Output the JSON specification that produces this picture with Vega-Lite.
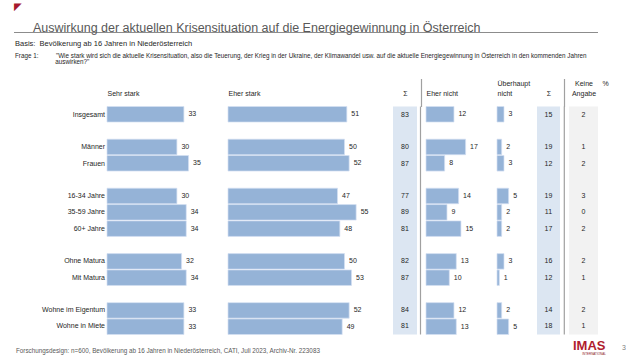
{
  "$schema": "https://vega.github.io/schema/vega-lite/v6.json",
  "padding": {"left": 14, "top": 2, "right": 0, "bottom": 0},
  "background": "white",
  "config": {
    "view": {"stroke": null},
    "font": "Liberation Sans",
    "axis": {"domain": false, "ticks": false, "labels": false, "grid": false, "titleFont": "Liberation Sans", "titleFontSize": 7, "titleFontWeight": "normal", "titleColor": "#262626", "titlePadding": 10, "minExtent": 0, "titleLineHeight": 10},
    "title": {"font": "Liberation Sans", "fontWeight": "normal"}
  },
  "title": {"text": "◤", "font": "DejaVu Sans", "fontSize": 10, "color": "#a6192e", "anchor": "start", "offset": 9.5},
  "datasets": {
    "rows": [
      {"label": "Insgesamt", "sehr": 33, "eher": 51, "sum1": 83, "nicht": 12, "ueber": 3, "sum2": 15, "ka": 2},
      {"label": "Männer", "sehr": 30, "eher": 50, "sum1": 80, "nicht": 17, "ueber": 2, "sum2": 19, "ka": 1},
      {"label": "Frauen", "sehr": 35, "eher": 52, "sum1": 87, "nicht": 8, "ueber": 3, "sum2": 12, "ka": 2},
      {"label": "16-34 Jahre", "sehr": 30, "eher": 47, "sum1": 77, "nicht": 14, "ueber": 5, "sum2": 19, "ka": 3},
      {"label": "35-59 Jahre", "sehr": 34, "eher": 55, "sum1": 89, "nicht": 9, "ueber": 2, "sum2": 11, "ka": 0},
      {"label": "60+ Jahre", "sehr": 34, "eher": 48, "sum1": 81, "nicht": 15, "ueber": 2, "sum2": 17, "ka": 2},
      {"label": "Ohne Matura", "sehr": 32, "eher": 50, "sum1": 82, "nicht": 13, "ueber": 3, "sum2": 16, "ka": 2},
      {"label": "Mit Matura", "sehr": 34, "eher": 53, "sum1": 87, "nicht": 10, "ueber": 1, "sum2": 12, "ka": 1},
      {"label": "Wohne im Eigentum", "sehr": 33, "eher": 52, "sum1": 84, "nicht": 12, "ueber": 2, "sum2": 14, "ka": 2},
      {"label": "Wohne in Miete", "sehr": 33, "eher": 49, "sum1": 81, "nicht": 13, "ueber": 5, "sum2": 18, "ka": 1}
    ]
  },
  "spacing": 5.5,
  "vconcat": [
    {
      "width": 584,
      "height": 1,
      "view": {"fill": "#8c8c8c", "stroke": null},
      "title": {"text": "Auswirkung der aktuellen Krisensituation auf die Energiegewinnung in Österreich", "fontSize": 12.5, "color": "#595959", "anchor": "start", "frame": "group", "dx": 19, "offset": -2},
      "data": {"values": []},
      "mark": {"type": "text", "text": ""},
      "encoding": {}
    },
    {
      "title": {
        "text": "Basis:\u00a0\u00a0Bevölkerung ab 16 Jahren in Niederösterreich",
        "fontSize": 7.5, "color": "#262626", "anchor": "start", "frame": "group", "dx": 1, "offset": 12.5,
        "subtitle": ["Frage 1:\u00a0\u00a0\u00a0\u00a0\u00a0\u00a0\u00a0\u00a0\u00a0\u00a0\"Wie stark wird sich die aktuelle Krisensituation, also die Teuerung, der Krieg in der Ukraine, der Klimawandel usw. auf die aktuelle Energiegewinnung in Österreich in den kommenden Jahren", "\u200b\u00a0\u00a0\u00a0\u00a0\u00a0\u00a0\u00a0\u00a0\u00a0\u00a0\u00a0\u00a0\u00a0\u00a0\u00a0\u00a0\u00a0\u00a0\u00a0\u00a0\u00a0\u00a0\u00a0auswirken?\""],
        "subtitleFontSize": 6.3, "subtitleColor": "#262626", "subtitleLineHeight": 6.3, "subtitlePadding": 5
      },
      "spacing": 0,
      "bounds": "flush",
      "data": {"name": "rows"},
      "hconcat": [
        {
          "width": 93, "height": 228,
          "title": {"text": "Forschungsdesign: n=600, Bevölkerung ab 16 Jahren in Niederösterreich, CATI, Juli 2023, Archiv-Nr. 223083", "orient": "bottom", "anchor": "start", "frame": "group", "fontSize": 6.3, "color": "#595959", "dx": 2, "offset": 13},
          "mark": {"type": "text", "align": "right", "dx": -2, "fontSize": 7, "color": "#262626"},
          "encoding": {
            "x": {"datum": 1, "type": "quantitative", "scale": {"domain": [0, 1], "nice": false}, "axis": null},
            "y": {"field": "label", "type": "nominal", "scale": {"domain": ["Insgesamt", " ", "Männer", "Frauen", "  ", "16-34 Jahre", "35-59 Jahre", "60+ Jahre", "   ", "Ohne Matura", "Mit Matura", "    ", "Wohne im Eigentum", "Wohne in Miete"], "paddingInner": 0.05, "paddingOuter": 0}, "axis": null},
            "text": {"field": "label"}
          }
        },
        {
          "width": 121, "height": 228,
          "layer": [
            {"mark": {"type": "bar", "color": "#95b3d7", "stroke": "#d4e0f2", "strokeWidth": 0.7}},
            {"mark": {"type": "text", "align": "left", "dx": 4.5, "fontSize": 7, "color": "#262626"}, "encoding": {"text": {"field": "sehr"}}}
          ],
          "encoding": {
            "x": {"field": "sehr", "type": "quantitative", "scale": {"domain": [0, 51.93], "nice": false}, "axis": {"orient": "top", "title": "Sehr stark", "titleAnchor": "start", "titleAlign": "left"}},
            "y": {"field": "label", "type": "nominal", "scale": {"domain": ["Insgesamt", " ", "Männer", "Frauen", "  ", "16-34 Jahre", "35-59 Jahre", "60+ Jahre", "   ", "Ohne Matura", "Mit Matura", "    ", "Wohne im Eigentum", "Wohne in Miete"], "paddingInner": 0.05, "paddingOuter": 0}, "axis": null}
          }
        },
        {
          "width": 165, "height": 228,
          "layer": [
            {"mark": {"type": "bar", "color": "#95b3d7", "stroke": "#d4e0f2", "strokeWidth": 0.7}},
            {"mark": {"type": "text", "align": "left", "dx": 4.5, "fontSize": 7, "color": "#262626"}, "encoding": {"text": {"field": "eher"}}}
          ],
          "encoding": {
            "x": {"field": "eher", "type": "quantitative", "scale": {"domain": [0, 70.82], "nice": false}, "axis": {"orient": "top", "title": "Eher stark", "titleAnchor": "start", "titleAlign": "left"}},
            "y": {"field": "label", "type": "nominal", "scale": {"domain": ["Insgesamt", " ", "Männer", "Frauen", "  ", "16-34 Jahre", "35-59 Jahre", "60+ Jahre", "   ", "Ohne Matura", "Mit Matura", "    ", "Wohne im Eigentum", "Wohne in Miete"], "paddingInner": 0.05, "paddingOuter": 0}, "axis": null}
          }
        },
        {
          "width": 24, "height": 228,
          "view": {"fill": "#dce6f2"},
          "mark": {"type": "text", "fontSize": 7, "color": "#262626"},
          "encoding": {
            "x": {"datum": 0.5, "type": "quantitative", "scale": {"domain": [0, 1], "nice": false}, "axis": {"orient": "top", "title": "Σ", "titleAnchor": "middle", "titleAlign": "center"}},
            "y": {"field": "label", "type": "nominal", "scale": {"domain": ["Insgesamt", " ", "Männer", "Frauen", "  ", "16-34 Jahre", "35-59 Jahre", "60+ Jahre", "   ", "Ohne Matura", "Mit Matura", "    ", "Wohne im Eigentum", "Wohne in Miete"], "paddingInner": 0.05, "paddingOuter": 0}, "axis": null},
            "text": {"field": "sum1"}
          }
        },
        {
          "width": 9, "height": 228,
          "data": {"values": [{}]},
          "mark": {"type": "rule", "color": "#a0a0a0", "strokeWidth": 1.2},
          "encoding": {
            "x": {"datum": 3.5, "type": "quantitative", "scale": {"domain": [0, 9], "nice": false}, "axis": {"orient": "top", "title": null, "ticks": true, "tickSize": 28, "tickColor": "#a0a0a0", "tickWidth": 1.2, "values": [3.5]}}
          }
        },
        {
          "width": 71, "height": 228,
          "layer": [
            {"mark": {"type": "bar", "color": "#95b3d7", "stroke": "#d4e0f2", "strokeWidth": 0.7}},
            {"mark": {"type": "text", "align": "left", "dx": 4.5, "fontSize": 7, "color": "#262626"}, "encoding": {"text": {"field": "nicht"}}}
          ],
          "encoding": {
            "x": {"field": "nicht", "type": "quantitative", "scale": {"domain": [0, 30.47], "nice": false}, "axis": {"orient": "top", "title": "Eher nicht", "titleAnchor": "start", "titleAlign": "left"}},
            "y": {"field": "label", "type": "nominal", "scale": {"domain": ["Insgesamt", " ", "Männer", "Frauen", "  ", "16-34 Jahre", "35-59 Jahre", "60+ Jahre", "   ", "Ohne Matura", "Mit Matura", "    ", "Wohne im Eigentum", "Wohne in Miete"], "paddingInner": 0.05, "paddingOuter": 0}, "axis": null}
          }
        },
        {
          "width": 40, "height": 228,
          "layer": [
            {"mark": {"type": "bar", "color": "#95b3d7", "stroke": "#d4e0f2", "strokeWidth": 0.7}},
            {"mark": {"type": "text", "align": "left", "dx": 4.5, "fontSize": 7, "color": "#262626"}, "encoding": {"text": {"field": "ueber"}}}
          ],
          "encoding": {
            "x": {"field": "ueber", "type": "quantitative", "scale": {"domain": [0, 17.17], "nice": false}, "axis": {"orient": "top", "title": ["Überhaupt", "nicht"], "titleAnchor": "start", "titleAlign": "left"}},
            "y": {"field": "label", "type": "nominal", "scale": {"domain": ["Insgesamt", " ", "Männer", "Frauen", "  ", "16-34 Jahre", "35-59 Jahre", "60+ Jahre", "   ", "Ohne Matura", "Mit Matura", "    ", "Wohne im Eigentum", "Wohne in Miete"], "paddingInner": 0.05, "paddingOuter": 0}, "axis": null}
          }
        },
        {
          "width": 23, "height": 228,
          "view": {"fill": "#dce6f2"},
          "mark": {"type": "text", "fontSize": 7, "color": "#262626"},
          "encoding": {
            "x": {"datum": 0.5, "type": "quantitative", "scale": {"domain": [0, 1], "nice": false}, "axis": {"orient": "top", "title": "Σ", "titleAnchor": "middle", "titleAlign": "center"}},
            "y": {"field": "label", "type": "nominal", "scale": {"domain": ["Insgesamt", " ", "Männer", "Frauen", "  ", "16-34 Jahre", "35-59 Jahre", "60+ Jahre", "   ", "Ohne Matura", "Mit Matura", "    ", "Wohne im Eigentum", "Wohne in Miete"], "paddingInner": 0.05, "paddingOuter": 0}, "axis": null},
            "text": {"field": "sum2"}
          }
        },
        {
          "width": 9, "height": 228,
          "data": {"values": [{}]},
          "mark": {"type": "rule", "color": "#a0a0a0", "strokeWidth": 1.2},
          "encoding": {
            "x": {"datum": 4.3, "type": "quantitative", "scale": {"domain": [0, 9], "nice": false}, "axis": {"orient": "top", "title": null, "ticks": true, "tickSize": 28, "tickColor": "#a0a0a0", "tickWidth": 1.2, "values": [4.3]}}
          }
        },
        {
          "width": 29, "height": 228,
          "view": {"fill": "#f2f2f2"},
          "title": {"text": "IMAS", "orient": "bottom", "anchor": "start", "frame": "group", "fontSize": 13, "fontWeight": "bold", "color": "#b01c2e", "dx": 4, "offset": 5, "subtitle": "\u200b\u00a0\u00a0\u00a0\u00a0\u00a0\u00a0\u00a0\u00a0\u00a0\u00a0\u00a0INTERNATIONAL", "subtitleFontSize": 3, "subtitleColor": "#8c1a26", "subtitlePadding": 0},
          "mark": {"type": "text", "fontSize": 7, "color": "#262626"},
          "encoding": {
            "x": {"datum": 0.5, "type": "quantitative", "scale": {"domain": [0, 1], "nice": false}, "axis": {"orient": "top", "title": ["Keine", "Angabe"], "titleAnchor": "middle", "titleAlign": "center"}},
            "y": {"field": "label", "type": "nominal", "scale": {"domain": ["Insgesamt", " ", "Männer", "Frauen", "  ", "16-34 Jahre", "35-59 Jahre", "60+ Jahre", "   ", "Ohne Matura", "Mit Matura", "    ", "Wohne im Eigentum", "Wohne in Miete"], "paddingInner": 0.05, "paddingOuter": 0}, "axis": null},
            "text": {"field": "ka"}
          }
        },
        {
          "width": 14, "height": 228,
          "title": {"text": "3", "orient": "bottom", "anchor": "start", "frame": "group", "fontSize": 7, "color": "#7f7f7f", "dx": 24, "offset": 9},
          "mark": {"type": "text", "text": ""},
          "encoding": {
            "x": {"datum": 0.5, "type": "quantitative", "scale": {"domain": [0, 1], "nice": false}, "axis": {"orient": "top", "title": ["%", " "], "titleAnchor": "middle", "titleAlign": "center"}}
          }
        }
      ]
    }
  ]
}
